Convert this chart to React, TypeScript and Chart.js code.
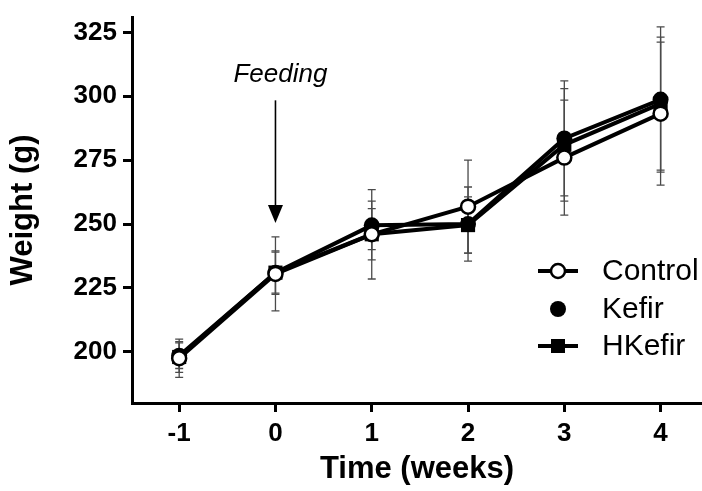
import React, { useEffect, useRef } from "react";
import { Chart, registerables } from "chart.js";

Chart.register(...registerables);

// ---- data ----
const weeks = [-1, 0, 1, 2, 3, 4];
const xTicks = [-1, 0, 1, 2, 3, 4];
const yTicks = [200, 225, 250, 275, 300, 325];

const controlMean = [197.5, 230.5, 246, 256.8, 276, 293.2];
const controlSD = [7.5, 14.5, 17.5, 18.2, 22.5, 28];
const kefirMean = [198.5, 231, 249.5, 250, 283.5, 298.7];
const kefirSD = [5, 8, 9.5, 14.5, 22.5, 28.4];
const hkefirMean = [198, 231, 246, 249.6, 281, 297.1];
const hkefirSD = [6, 8.5, 10, 11, 22, 26];

const seriesNames = ["Control", "Kefir", "HKefir"];
const feedingLabel = "Feeding";
const feedingWeek = 0;
const arrowFrom = 298.4;
const arrowTo = 250.4;
const feedingTextValue = 305.5;

const FONT = "'Liberation Sans', Arial, Helvetica, sans-serif";

type Series = { name: string; mean: number[]; sd: number[] };
const seriesList: Series[] = [
  { name: seriesNames[0], mean: controlMean, sd: controlSD },
  { name: seriesNames[1], mean: kefirMean, sd: kefirSD },
  { name: seriesNames[2], mean: hkefirMean, sd: hkefirSD },
];

const errorBarPlugin = {
  id: "errorBars",
  beforeDatasetsDraw(chart: any) {
    const { ctx, scales } = chart;
    const x = scales.x;
    const y = scales.y;
    ctx.save();
    ctx.strokeStyle = "#4a4a4a";
    ctx.lineWidth = 1.3;
    seriesList.forEach((s) => {
      s.mean.forEach((m, i) => {
        const px = x.getPixelForValue(weeks[i]);
        const top = y.getPixelForValue(m + s.sd[i]);
        const bot = y.getPixelForValue(m - s.sd[i]);
        ctx.beginPath();
        ctx.moveTo(px, top);
        ctx.lineTo(px, bot);
        ctx.moveTo(px - 4, top);
        ctx.lineTo(px + 4, top);
        ctx.moveTo(px - 4, bot);
        ctx.lineTo(px + 4, bot);
        ctx.stroke();
      });
    });
    ctx.restore();
  },
};

const annotationPlugin = {
  id: "annotations",
  afterDraw(chart: any) {
    const { ctx, scales } = chart;
    const x = scales.x;
    const y = scales.y;
    ctx.save();
    // Feeding arrow
    const ax = x.getPixelForValue(feedingWeek);
    const y0 = y.getPixelForValue(arrowFrom);
    const y1 = y.getPixelForValue(arrowTo);
    ctx.strokeStyle = "#000";
    ctx.lineWidth = 1.6;
    ctx.beginPath();
    ctx.moveTo(ax, y0);
    ctx.lineTo(ax, y1 - 16);
    ctx.stroke();
    ctx.fillStyle = "#000";
    ctx.beginPath();
    ctx.moveTo(ax - 7.5, y1 - 18);
    ctx.lineTo(ax + 7.5, y1 - 18);
    ctx.lineTo(ax, y1);
    ctx.closePath();
    ctx.fill();
    // Feeding text
    ctx.font = `italic 26px ${FONT}`;
    ctx.textAlign = "center";
    ctx.textBaseline = "alphabetic";
    ctx.fillText(feedingLabel, ax + 5, y.getPixelForValue(feedingTextValue));

    // Legend
    const lx = 558;
    const rows = [271, 309, 346];
    ctx.font = `30px ${FONT}`;
    ctx.textAlign = "left";
    ctx.textBaseline = "middle";
    rows.forEach((ry, i) => {
      if (i !== 1) {
        ctx.strokeStyle = "#000";
        ctx.lineWidth = 4;
        ctx.beginPath();
        ctx.moveTo(lx - 20, ry);
        ctx.lineTo(lx + 20, ry);
        ctx.stroke();
      }
      if (i === 0) {
        ctx.beginPath();
        ctx.arc(lx, ry, 7, 0, Math.PI * 2);
        ctx.fillStyle = "#fff";
        ctx.fill();
        ctx.lineWidth = 2.5;
        ctx.strokeStyle = "#000";
        ctx.stroke();
      } else if (i === 1) {
        ctx.beginPath();
        ctx.arc(lx, ry, 8, 0, Math.PI * 2);
        ctx.fillStyle = "#000";
        ctx.fill();
      } else {
        ctx.fillStyle = "#000";
        ctx.fillRect(lx - 7, ry - 7, 14, 14);
      }
      ctx.fillStyle = "#000";
      ctx.fillText(seriesNames[i], 602, ry + 1);
    });
    ctx.restore();
  },
};

export default function App() {
  const canvasRef = useRef<HTMLCanvasElement | null>(null);

  useEffect(() => {
    document.body.style.margin = "0";
    const canvas = canvasRef.current;
    if (!canvas) return;
    const toPts = (arr: number[]) => arr.map((v, i) => ({ x: weeks[i], y: v }));
    const chart = new Chart(canvas, {
      type: "line",
      data: {
        datasets: [
          {
            label: seriesNames[0],
            data: toPts(controlMean),
            borderColor: "#000",
            borderWidth: 4,
            pointStyle: "circle",
            pointRadius: 7,
            pointBackgroundColor: "#fff",
            pointBorderColor: "#000",
            pointBorderWidth: 2.5,
            tension: 0,
          },
          {
            label: seriesNames[2],
            data: toPts(hkefirMean),
            borderColor: "#000",
            borderWidth: 4,
            pointStyle: "rect",
            pointRadius: 10,
            pointBackgroundColor: "#000",
            pointBorderColor: "#000",
            pointBorderWidth: 0,
            tension: 0,
          },
          {
            label: seriesNames[1],
            data: toPts(kefirMean),
            borderColor: "#000",
            borderWidth: 4,
            pointStyle: "circle",
            pointRadius: 8,
            pointBackgroundColor: "#000",
            pointBorderColor: "#000",
            pointBorderWidth: 0,
            tension: 0,
          },
        ],
      },
      options: {
        responsive: false,
        animation: false,
        devicePixelRatio: 1,
        layout: { autoPadding: false, padding: { top: 17, right: 0, left: 0, bottom: 0 } },
        plugins: { legend: { display: false }, tooltip: { enabled: false } },
        scales: {
          x: {
            type: "linear",
            min: -1.49,
            max: 4.43,
            afterBuildTicks: (s: any) => {
              s.ticks = xTicks.map((v) => ({ value: v }));
            },
            afterFit: (s: any) => {
              s.height = 88;
              s.paddingLeft = 0;
              s.paddingRight = 0;
            },
            grid: {
              display: true,
              drawOnChartArea: false,
              drawTicks: true,
              tickLength: 9,
              tickWidth: 3,
              tickColor: "#000",
            },
            border: { display: true, width: 3, color: "#000" },
            ticks: {
              color: "#000",
              font: { family: FONT, size: 26, weight: "bold" },
              padding: 6,
              maxRotation: 0,
              autoSkip: false,
              callback: (v: any) => String(v),
            },
            title: {
              display: true,
              text: "Time (weeks)",
              color: "#000",
              font: { family: FONT, size: 31, weight: "bold" },
              padding: { top: 0, bottom: 3 },
            },
          },
          y: {
            type: "linear",
            min: 180,
            max: 331,
            afterBuildTicks: (s: any) => {
              s.ticks = yTicks.map((v) => ({ value: v }));
            },
            afterFit: (s: any) => {
              s.width = 132;
              s.paddingTop = 0;
              s.paddingBottom = 0;
            },
            grid: {
              display: true,
              drawOnChartArea: false,
              drawTicks: true,
              tickLength: 9,
              tickWidth: 3,
              tickColor: "#000",
            },
            border: { display: true, width: 3, color: "#000" },
            ticks: {
              color: "#000",
              font: { family: FONT, size: 26, weight: "bold" },
              padding: 6,
              callback: (v: any) => String(v),
            },
            title: {
              display: true,
              text: "Weight (g)",
              color: "#000",
              font: { family: FONT, size: 31, weight: "bold" },
              padding: { top: 5, bottom: 0 },
            },
          },
        },
      },
      plugins: [errorBarPlugin, annotationPlugin],
    } as any);
    return () => chart.destroy();
  }, []);

  return (
    <div style={{ width: 702, height: 491 }}>
      <canvas ref={canvasRef} width={702} height={491} style={{ width: 702, height: 491, display: "block" }} />
    </div>
  );
}
